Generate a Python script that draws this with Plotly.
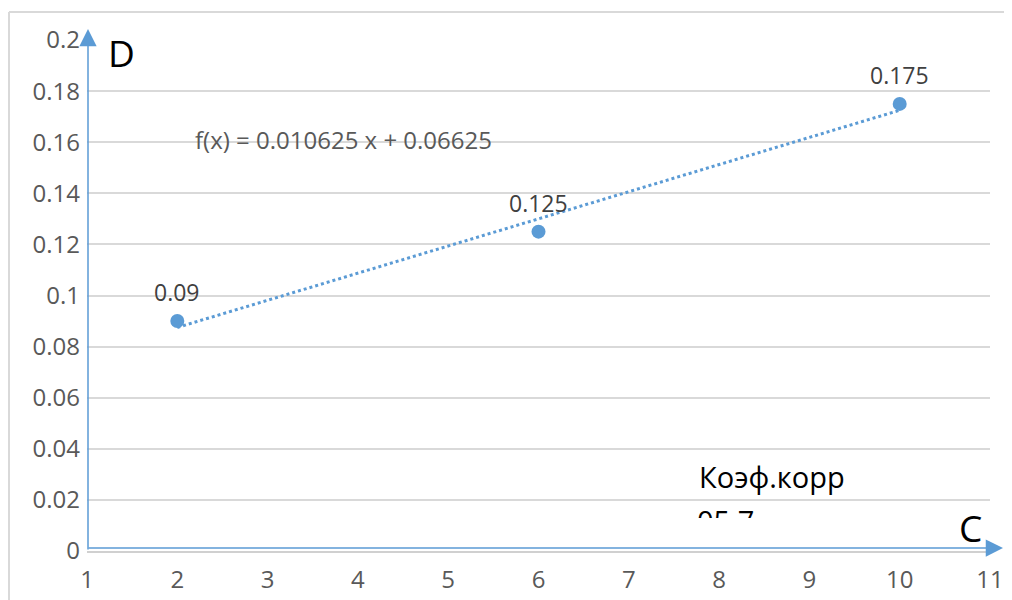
import plotly.graph_objects as go

# Data
x_vals = [2, 6, 10]
y_vals = [0.09, 0.125, 0.175]
point_labels = ["0.09", "0.125", "0.175"]
slope = 0.010625
intercept = 0.06625
trend_x = [2, 10]
x_ticks = list(range(1, 12))
y_ticks = [0, 0.02, 0.04, 0.06, 0.08, 0.1, 0.12, 0.14, 0.16, 0.18, 0.2]
y_tick_text = ["0", "0.02", "0.04", "0.06", "0.08", "0.1", "0.12", "0.14", "0.16", "0.18", "0.2"]
equation = "f(x) = 0.010625 x + 0.06625"
corr_title = "Коэф.корр"
corr_value = "05.7"  # only the tops of these glyphs are visible in the source

BLUE = "#5B9BD5"
FONT = "Open Sans"

OFF = 8  # page body margin
W, H = 1012, 600
# screen-pixel plot area: x 87..990, y 40..551
ml = 87 - OFF
mt = 40 - OFF
mr = W - (990 - OFF)
mb = H - (551 - OFF)
pw, ph = W - ml - mr, H - mt - mb

def px_x(p):
    return (p - OFF - ml) / pw

def px_y(p):
    return (H - mb - (p - OFF)) / ph

def dom_y(p):
    # screen pixel -> figure-domain fraction (vertical)
    return (H - (p - OFF) - mb) / ph

fig = go.Figure()

trend_y = [slope * v + intercept for v in trend_x]
fig.add_trace(go.Scatter(x=trend_x, y=trend_y, mode="lines",
                         line=dict(color=BLUE, width=3, dash="dot"),
                         hoverinfo="skip", showlegend=False))
fig.add_trace(go.Scatter(x=x_vals, y=y_vals, mode="markers",
                         marker=dict(color=BLUE, size=14),
                         showlegend=False))

# clipped text line below "Коэф.корр" (partly hidden, as in the source)
clip_top, clip_bot = 495, 518
fig.add_trace(go.Scatter(x=[0], y=[-(525 - clip_bot) / (clip_bot - clip_top)],
                         mode="text", text=[corr_value], textposition="middle right",
                         textfont=dict(family=FONT, size=29, color="black"),
                         cliponaxis=True, xaxis="x2", yaxis="y2",
                         hoverinfo="skip", showlegend=False))

annotations = [
    dict(x=xv, y=yv, text=lab, showarrow=False, yshift=29, yanchor="middle",
         font=dict(family=FONT, size=23, color="#404040"))
    for xv, yv, lab in zip(x_vals, y_vals, point_labels)
]
annotations += [
    # y axis arrow
    dict(xref="paper", yref="paper", x=px_x(88), y=px_y(29), ax=0, ay=522,
         axref="pixel", ayref="pixel", showarrow=True, arrowhead=2,
         arrowsize=2.3, arrowwidth=1.5, arrowcolor=BLUE, text=""),
    # x axis arrow
    dict(xref="paper", yref="paper", x=px_x(1003), y=px_y(548), ax=-916, ay=0,
         axref="pixel", ayref="pixel", showarrow=True, arrowhead=2,
         arrowsize=2.3, arrowwidth=1.5, arrowcolor=BLUE, text=""),
    dict(xref="paper", yref="paper", x=px_x(106), y=px_y(52), text="D",
         showarrow=False, xanchor="left", yanchor="middle",
         font=dict(size=37, color="black", family=FONT)),
    dict(xref="paper", yref="paper", x=px_x(957), y=px_y(527), text="C",
         showarrow=False, xanchor="left", yanchor="middle",
         font=dict(size=37, color="black", family=FONT)),
    dict(xref="paper", yref="paper", x=px_x(697), y=px_y(476), text=corr_title,
         showarrow=False, xanchor="left", yanchor="middle",
         font=dict(size=29, color="black", family=FONT)),
    dict(xref="paper", yref="paper", x=px_x(193), y=px_y(139), text=equation,
         showarrow=False, xanchor="left", yanchor="middle",
         font=dict(size=24, color="#595959", family=FONT)),
]

fig.update_layout(
    width=W, height=H,
    margin=dict(l=ml, r=mr, t=mt, b=mb),
    paper_bgcolor="white", plot_bgcolor="rgba(0,0,0,0)",
    font=dict(family=FONT, color="#595959"),
    xaxis=dict(range=[1, 11], tickvals=x_ticks, showgrid=False, zeroline=False,
               showline=True, linecolor="#d0d0d0", linewidth=2,
               tickfont=dict(size=24, color="#595959"), ticks="",
               ticklabelstandoff=6, domain=[0, 1]),
    yaxis=dict(range=[0, 0.2], tickvals=y_ticks, ticktext=y_tick_text,
               showgrid=True, gridcolor="#d9d9d9", gridwidth=1.5, zeroline=False,
               showline=False, tickfont=dict(size=24, color="#595959"), ticks="",
               ticklabelstandoff=6, domain=[0, 1]),
    xaxis2=dict(domain=[px_x(697), px_x(870)], range=[0, 1], visible=False,
                anchor="y2", fixedrange=True),
    yaxis2=dict(domain=[dom_y(clip_bot), dom_y(clip_top)], range=[0, 1],
                visible=False, anchor="x2", fixedrange=True),
    shapes=[
        # outer chart border
        dict(type="line", xref="paper", yref="paper", x0=px_x(9), x1=px_x(1030),
             y0=px_y(12), y1=px_y(12), line=dict(color="#d9d9d9", width=2)),
        dict(type="line", xref="paper", yref="paper", x0=px_x(9), x1=px_x(9),
             y0=px_y(12), y1=px_y(620), line=dict(color="#d9d9d9", width=2)),
    ],
    annotations=annotations,
)

fig.write_html("out.html")
